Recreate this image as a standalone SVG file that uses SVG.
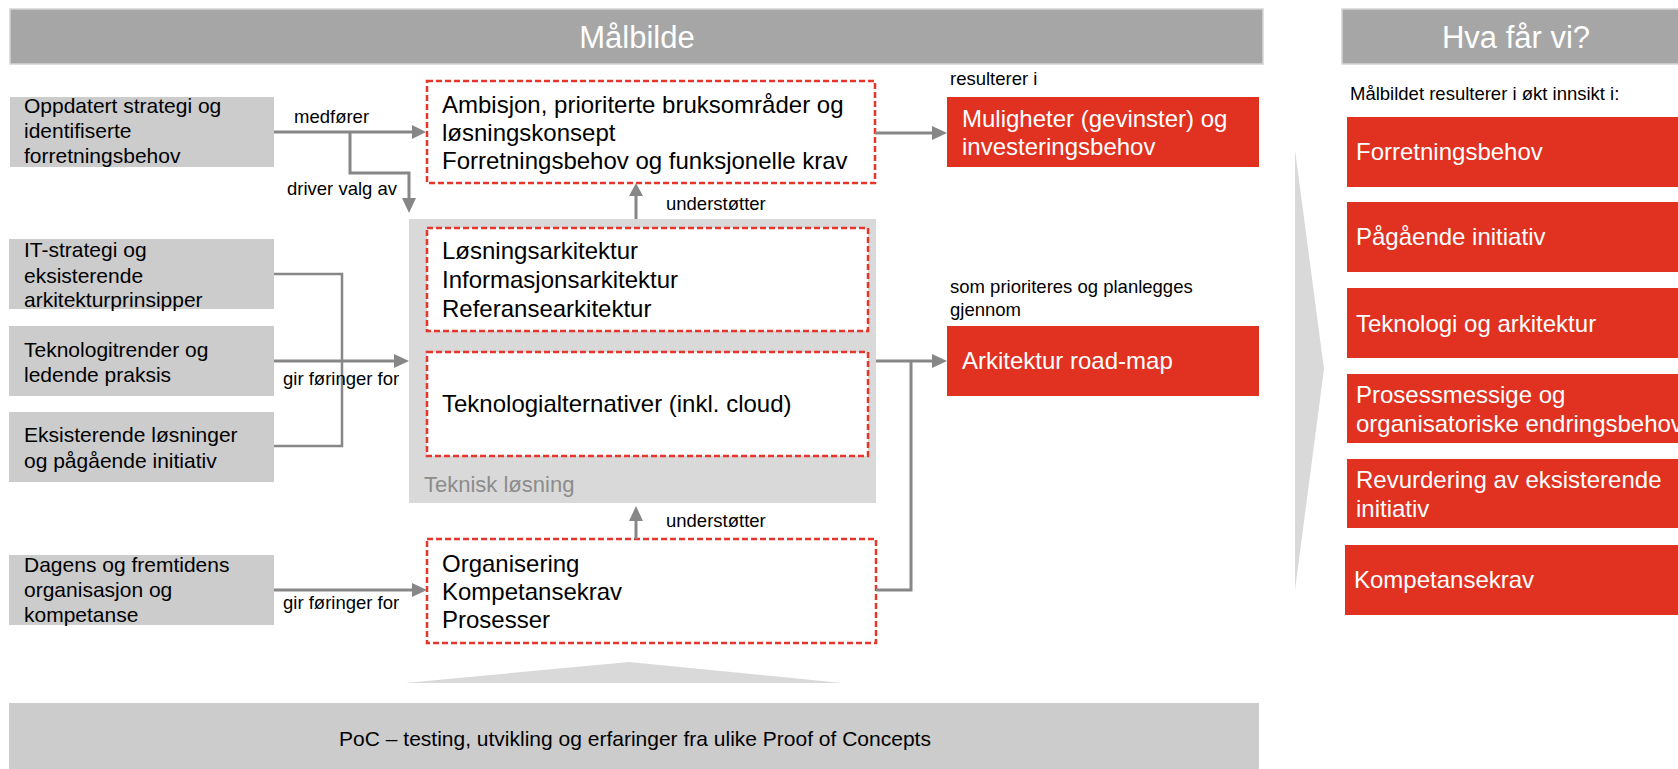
<svg xmlns="http://www.w3.org/2000/svg" width="1678" height="769" viewBox="0 0 1678 769">
<defs>
<style>
text{font-family:"Liberation Sans",Arial,sans-serif;}
.hdr{fill:#A6A6A6;stroke:#D4D4D4;stroke-width:1.5;}
.hdrt{fill:#fff;font-size:31px;text-anchor:middle;}
.src{fill:#CCCCCC;}
.srct{fill:#000;font-size:21px;}
.dash{fill:#fff;stroke:#E8352B;stroke-width:2.5;stroke-dasharray:6 3;}
.bt{fill:#000;font-size:24px;}
.red{fill:#E03121;}
.rt{fill:#fff;font-size:24px;}
.lbl{fill:#000;font-size:18.5px;}
.ln{fill:none;stroke:#878787;stroke-width:3;}
.ln2{fill:none;stroke:#878787;stroke-width:2.5;}
.ah{fill:#878787;}
</style>
</defs>

<g id="header-malbilde">
<rect class="hdr" x="10" y="9" width="1253" height="55"/>
<text class="hdrt" x="637" y="48">Målbilde</text>
</g>
<g id="header-hva">
<rect class="hdr" x="1342" y="9" width="350" height="55"/>
<text class="hdrt" x="1516" y="48">Hva får vi?</text>
</g>

<g id="src1">
<rect class="src" x="10" y="97" width="264" height="70"/>
<text class="srct"><tspan x="24" y="113">Oppdatert strategi og</tspan><tspan x="24" y="138">identifiserte</tspan><tspan x="24" y="163">forretningsbehov</tspan></text>
</g>
<g id="src2">
<rect class="src" x="9" y="239" width="265" height="70"/>
<text class="srct"><tspan x="24" y="257">IT-strategi og</tspan><tspan x="24" y="283">eksisterende</tspan><tspan x="24" y="307">arkitekturprinsipper</tspan></text>
</g>
<g id="src3">
<rect class="src" x="9" y="326" width="265" height="70"/>
<text class="srct"><tspan x="24" y="357">Teknologitrender og</tspan><tspan x="24" y="382">ledende praksis</tspan></text>
</g>
<g id="src4">
<rect class="src" x="9" y="412" width="265" height="70"/>
<text class="srct"><tspan x="24" y="442">Eksisterende løsninger</tspan><tspan x="24" y="468">og pågående initiativ</tspan></text>
</g>
<g id="src5">
<rect class="src" x="9" y="555" width="265" height="70"/>
<text class="srct"><tspan x="24" y="572">Dagens og fremtidens</tspan><tspan x="24" y="597">organisasjon og</tspan><tspan x="24" y="622">kompetanse</tspan></text>
</g>

<g id="teknisk-losning">
<rect x="409" y="219" width="467" height="284" fill="#D9D9D9"/>
<text x="424" y="492" font-size="22" fill="#8C8C8C">Teknisk løsning</text>
</g>

<g id="ambisjon">
<rect class="dash" x="427" y="81" width="448" height="102"/>
<text class="bt"><tspan x="442" y="113">Ambisjon, prioriterte bruksområder og</tspan><tspan x="442" y="141">løsningskonsept</tspan><tspan x="442" y="169">Forretningsbehov og funksjonelle krav</tspan></text>
</g>
<g id="arkitektur">
<rect class="dash" x="427" y="228" width="441" height="103"/>
<text class="bt"><tspan x="442" y="259">Løsningsarkitektur</tspan><tspan x="442" y="288">Informasjonsarkitektur</tspan><tspan x="442" y="317">Referansearkitektur</tspan></text>
</g>
<g id="teknologialternativer">
<rect class="dash" x="427" y="352" width="441" height="104"/>
<text class="bt" x="442" y="412">Teknologialternativer (inkl. cloud)</text>
</g>
<g id="organisering">
<rect class="dash" x="427" y="539" width="449" height="104"/>
<text class="bt"><tspan x="442" y="572">Organisering</tspan><tspan x="442" y="600">Kompetansekrav</tspan><tspan x="442" y="628">Prosesser</tspan></text>
</g>

<g id="muligheter">
<rect class="red" x="947" y="97" width="312" height="70"/>
<text class="rt"><tspan x="962" y="127">Muligheter (gevinster) og</tspan><tspan x="962" y="155">investeringsbehov</tspan></text>
</g>
<g id="roadmap">
<rect class="red" x="947" y="326" width="312" height="70"/>
<text class="rt" x="962" y="369">Arkitektur road-map</text>
</g>

<g id="chevron">
<polygon points="1295,150 1324,369 1295,590" fill="#D9D9D9"/>
</g>

<text id="intro" class="lbl" x="1350" y="100">Målbildet resulterer i økt innsikt i:</text>

<g id="out1">
<rect class="red" x="1347" y="117" width="340" height="70"/>
<text class="rt" x="1356" y="160">Forretningsbehov</text>
</g>
<g id="out2">
<rect class="red" x="1347" y="202" width="340" height="70"/>
<text class="rt" x="1356" y="245">Pågående initiativ</text>
</g>
<g id="out3">
<rect class="red" x="1347" y="288" width="340" height="70"/>
<text class="rt" x="1356" y="332">Teknologi og arkitektur</text>
</g>
<g id="out4">
<rect class="red" x="1347" y="374" width="340" height="69"/>
<text class="rt"><tspan x="1356" y="403">Prosessmessige og</tspan><tspan x="1356" y="432">organisatoriske endringsbehov</tspan></text>
</g>
<g id="out5">
<rect class="red" x="1347" y="459" width="340" height="69"/>
<text class="rt"><tspan x="1356" y="488">Revurdering av eksisterende</tspan><tspan x="1356" y="517">initiativ</tspan></text>
</g>
<g id="out6">
<rect class="red" x="1345" y="545" width="342" height="70"/>
<text class="rt" x="1354" y="588">Kompetansekrav</text>
</g>

<g id="poc">
<polygon points="629,662 842,683 405,683" fill="#D9D9D9"/>
<rect x="9" y="703" width="1250" height="70" fill="#CCCCCC"/>
<text x="635" y="746" font-size="21" text-anchor="middle" fill="#000">PoC – testing, utvikling og erfaringer fra ulike Proof of Concepts</text>
</g>

<g id="connectors">
<!-- medfører -->
<line class="ln" x1="274" y1="132" x2="413" y2="132"/>
<polygon class="ah" points="412,125 426,132 412,139"/>
<!-- driver valg av -->
<polyline class="ln" points="350,132 350,173 409,173 409,199"/>
<polygon class="ah" points="402,198 416,198 409,213"/>
<!-- understøtter top -->
<line class="ln" x1="636" y1="219" x2="636" y2="195"/>
<polygon class="ah" points="629,196 643,196 636,183"/>
<!-- understøtter bottom -->
<line class="ln" x1="636" y1="539" x2="636" y2="520"/>
<polygon class="ah" points="629,521 643,521 636,506"/>
<!-- bracket gir føringer for -->
<polyline class="ln2" points="274,274 342,274 342,446 274,446"/>
<line class="ln" x1="274" y1="361" x2="395" y2="361"/>
<polygon class="ah" points="394,354 409,361 394,368"/>
<!-- organisering -->
<line class="ln" x1="274" y1="590" x2="413" y2="590"/>
<polygon class="ah" points="412,583 427,590 412,597"/>
<!-- resulterer i -->
<line class="ln" x1="875" y1="133" x2="933" y2="133"/>
<polygon class="ah" points="932,126 947,133 932,140"/>
<!-- roadmap -->
<line class="ln" x1="876" y1="361" x2="933" y2="361"/>
<polygon class="ah" points="932,354 947,361 932,368"/>
<polyline class="ln" points="876,590 911,590 911,361"/>
</g>

<g id="labels">
<text class="lbl" x="294" y="123">medfører</text>
<text class="lbl" x="287" y="195">driver valg av</text>
<text class="lbl" x="666" y="210">understøtter</text>
<text class="lbl" x="666" y="527">understøtter</text>
<text class="lbl" x="283" y="385">gir føringer for</text>
<text class="lbl" x="283" y="609">gir føringer for</text>
<text class="lbl" x="950" y="85">resulterer i</text>
<text class="lbl"><tspan x="950" y="293">som prioriteres og planlegges</tspan><tspan x="950" y="316">gjennom</tspan></text>
</g>
</svg>
